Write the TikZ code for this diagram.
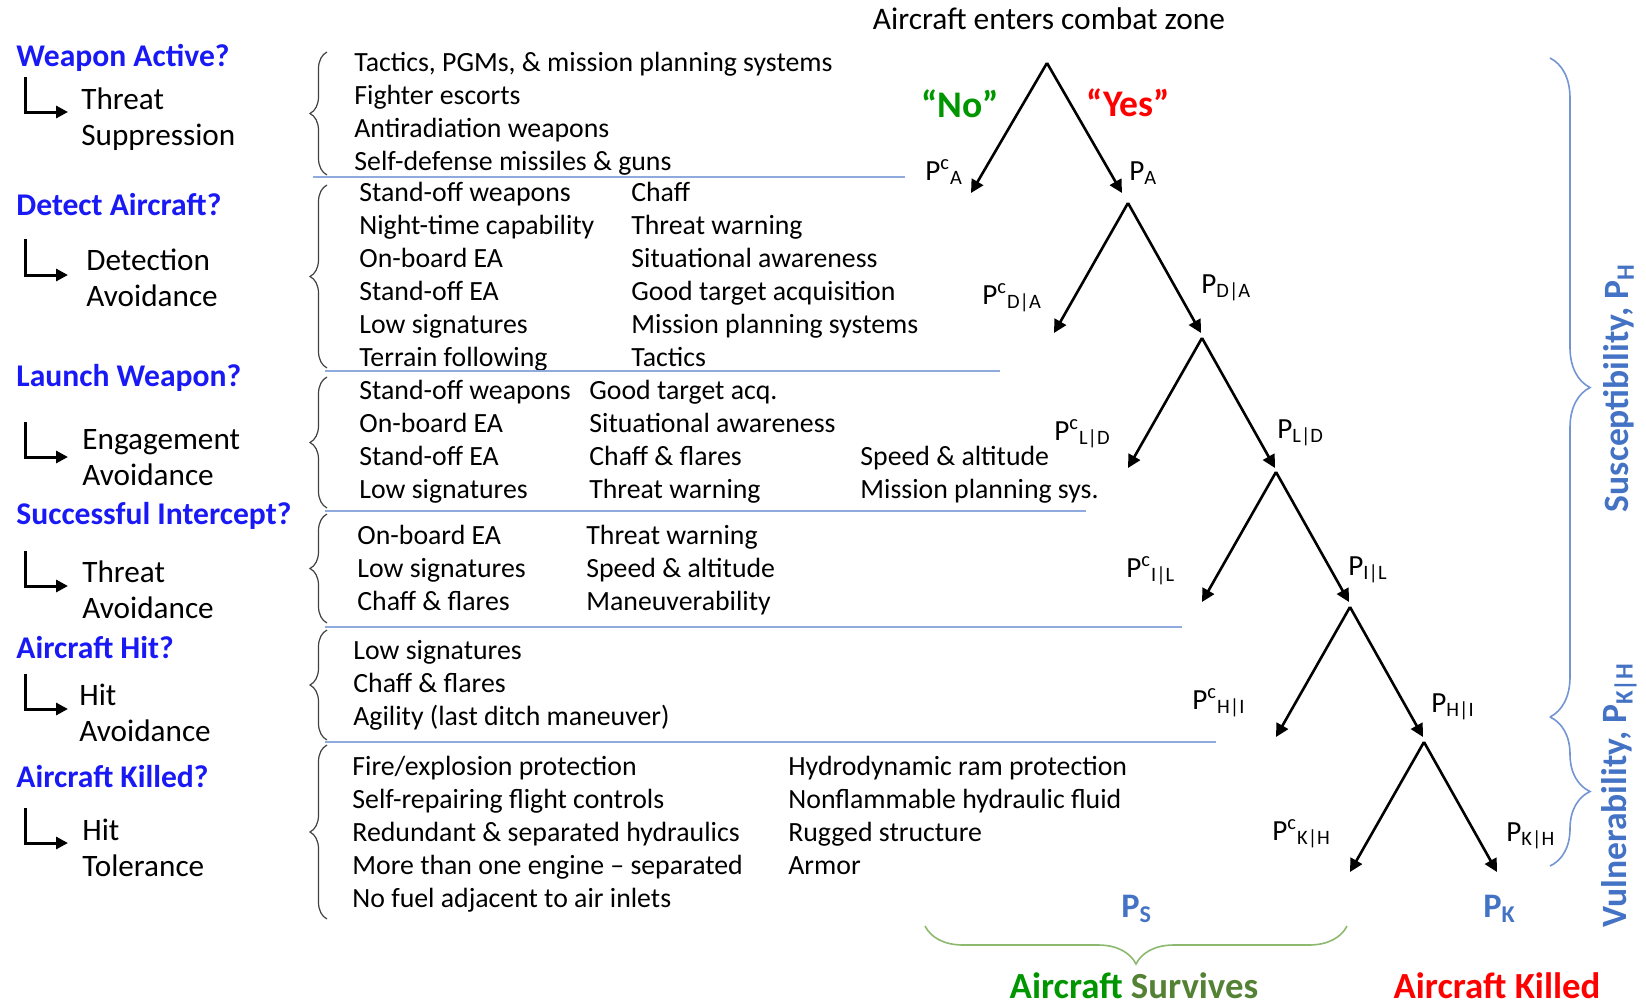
\documentclass[tikz,border=0pt]{standalone}
\usepackage{fontspec}
\setmainfont{Carlito}
\usepackage{xcolor}
\usetikzlibrary{arrows.meta,decorations.pathreplacing}

\definecolor{QuestionBlue}{RGB}{25,25,245}
\definecolor{ProbBlue}{RGB}{68,114,196}
\definecolor{RuleBlue}{RGB}{143,170,220}
\definecolor{NoGreen}{RGB}{0,150,0}
\definecolor{SurvGreen}{RGB}{84,130,53}
\definecolor{BraceGreen}{RGB}{140,185,110}

\newcommand{\Pc}[1]{P\textsuperscript{c}\textsubscript{#1}}
\newcommand{\Pn}[1]{P\textsubscript{#1}}

\begin{document}
\begin{tikzpicture}[x=0.5pt,y=-0.5pt]
 \tikzstyle{Question}=[anchor=west, inner sep=0pt, text=QuestionBlue,
                       font=\fontsize{15.8}{18}\selectfont\bfseries]
 \tikzstyle{Action}=[anchor=west, inner sep=0pt, align=left,
                     font=\fontsize{15.6}{18}\selectfont]
 \tikzstyle{Measures}=[anchor=west, inner sep=0pt,
                       font=\fontsize{13.9}{16.5}\selectfont]
 \tikzstyle{Prob}=[anchor=base west, inner sep=0pt, font=\fontsize{14.6}{16}\selectfont]
 \tikzstyle{ProbBig}=[anchor=base west, inner sep=0pt, text=ProbBlue,
                      font=\fontsize{17.2}{19}\selectfont\bfseries]
 \tikzstyle{Answer}=[inner sep=0pt, font=\fontsize{18.8}{20}\selectfont\bfseries]
 \tikzstyle{Side}=[inner sep=0pt, rotate=90, text=ProbBlue,
                   font=\fontsize{17.8}{19}\selectfont\bfseries]
 \tikzstyle{Outcome}=[inner sep=0pt, font=\fontsize{18.4}{20}\selectfont\bfseries]
 \tikzstyle{Branch}=[line width=1.3pt, -{Triangle[length=6.5pt,width=6.5pt]}]
 \tikzstyle{Elbow}=[line width=1.5pt, -{Triangle[length=6pt,width=6pt]}]
 \tikzstyle{Rule}=[draw=RuleBlue, line width=1pt]
 \tikzstyle{LBrace}=[decorate, decoration={brace, amplitude=8.5pt},
                     draw=black!75, line width=0.6pt]
 \tikzstyle{RBrace}=[decorate, decoration={brace, amplitude=20pt},
                     draw=ProbBlue!75, line width=0.8pt]
 \tikzstyle{GBrace}=[decorate, decoration={brace, amplitude=19pt},
                     draw=BraceGreen, line width=0.8pt]

 \useasboundingbox (0,0) rectangle (1646,1007);

 % questions and the answers to them
 \node[Question] (Q1) at (16,58)  {Weapon Active?};
 \node[Question] (Q2) at (16,205) {Detect Aircraft?};
 \node[Question] (Q3) at (16,378) {Launch Weapon?};
 \node[Question] (Q4) at (16,516) {Successful Intercept?};
 \node[Question] (Q5) at (16,648) {Aircraft Hit?};
 \node[Question] (Q6) at (16,777) {Aircraft Killed?};

 \node[Action] (S1) at (81,119) {Threat\\Suppression};
 \node[Action] (S2) at (86,278) {Detection\\Avoidance};
 \node[Action] (S3) at (82,458) {Engagement\\Avoidance};
 \node[Action] (S4) at (82,590) {Threat\\Avoidance};
 \node[Action] (S5) at (79,713) {Hit\\Avoidance};
 \node[Action] (S6) at (82,848) {Hit\\Tolerance};

 \coordinate (E1) at (25,77);  \coordinate (F1) at (68,112);
 \coordinate (E2) at (25,239); \coordinate (F2) at (68,275);
 \coordinate (E3) at (25,422); \coordinate (F3) at (68,457);
 \coordinate (E4) at (25,551); \coordinate (F4) at (68,586);
 \coordinate (E5) at (25,674); \coordinate (F5) at (68,709);
 \coordinate (E6) at (25,808); \coordinate (F6) at (68,843);
 \draw[Elbow] (E1) |- (F1);
 \draw[Elbow] (E2) |- (F2);
 \draw[Elbow] (E3) |- (F3);
 \draw[Elbow] (E4) |- (F4);
 \draw[Elbow] (E5) |- (F5);
 \draw[Elbow] (E6) |- (F6);

 % measures
 \draw[LBrace] (327,175) -- (327,52);
 \draw[LBrace] (327,368) -- (327,185);
 \draw[LBrace] (327,508) -- (327,377);
 \draw[LBrace] (327,623) -- (327,514);
 \draw[LBrace] (327,740) -- (327,630);
 \draw[LBrace] (327,919) -- (327,745);

 \node[Measures] (M1) at (354,114) {\begin{tabular}{@{}l@{}}
   Tactics, PGMs, \& mission planning systems\\ Fighter escorts\\
   Antiradiation weapons\\ Self-defense missiles \& guns\end{tabular}};
 \node[Measures] (M2) at (359,277) {\begin{tabular}{@{}p{136pt}@{}l@{}}
   Stand-off weapons & Chaff\\ Night-time capability & Threat warning\\
   On-board EA & Situational awareness\\ Stand-off EA & Good target acquisition\\
   Low signatures & Mission planning systems\\ Terrain following & Tactics\end{tabular}};
 \node[Measures] (M3) at (359,442) {\begin{tabular}{@{}p{115pt}@{}p{135.5pt}@{}l@{}}
   Stand-off weapons & Good target acq. &\\ On-board EA & Situational awareness &\\
   Stand-off EA & Chaff \& flares & Speed \& altitude\\
   Low signatures & Threat warning & Mission planning sys.\end{tabular}};
 \node[Measures] (M4) at (357,571) {\begin{tabular}{@{}p{114.5pt}@{}l@{}}
   On-board EA & Threat warning\\ Low signatures & Speed \& altitude\\
   Chaff \& flares & Maneuverability\end{tabular}};
 \node[Measures] (M5) at (353,686) {\begin{tabular}{@{}l@{}}
   Low signatures\\ Chaff \& flares\\ Agility (last ditch maneuver)\end{tabular}};
 \node[Measures] (M6) at (352,835) {\begin{tabular}{@{}p{218pt}@{}l@{}}
   Fire/explosion protection & Hydrodynamic ram protection\\
   Self-repairing flight controls & Nonflammable hydraulic fluid\\
   Redundant \& separated hydraulics & Rugged structure\\
   More than one engine -- separated & Armor\\
   No fuel adjacent to air inlets &\end{tabular}};

 \draw[Rule] (313,177) -- (905,177);
 \draw[Rule] (325,371) -- (1000,371);
 \draw[Rule] (325,511) -- (1086,511);
 \draw[Rule] (325,627) -- (1182,627);
 \draw[Rule] (325,742) -- (1216,742);

 % event tree
 \node[font=\fontsize{15.7}{18}\selectfont, inner sep=0pt] (T) at (1049,19)
   {Aircraft enters combat zone};
 \node[Answer, text=NoGreen] (No) at (960,104) {“No”};
 \node[Answer, text=red] (Yes) at (1128,103) {“Yes”};

 \coordinate (A0) at (1047,63);
 \coordinate (A1) at (1128,203);
 \coordinate (A2) at (1202,338);
 \coordinate (A3) at (1276,472);
 \coordinate (A4) at (1350,607);
 \coordinate (A5) at (1424,742);
 \coordinate (N1) at (971,193);  \coordinate (Y1) at (1122,193);
 \coordinate (N2) at (1054,333); \coordinate (Y2) at (1201,333);
 \coordinate (N3) at (1128,468); \coordinate (Y3) at (1275,468);
 \coordinate (N4) at (1202,602); \coordinate (Y4) at (1349,602);
 \coordinate (N5) at (1276,737); \coordinate (Y5) at (1423,737);
 \coordinate (N6) at (1350,872); \coordinate (Y6) at (1497,872);
 \draw[Branch] (A0) -- (N1); \draw[Branch] (A0) -- (Y1);
 \draw[Branch] (A1) -- (N2); \draw[Branch] (A1) -- (Y2);
 \draw[Branch] (A2) -- (N3); \draw[Branch] (A2) -- (Y3);
 \draw[Branch] (A3) -- (N4); \draw[Branch] (A3) -- (Y4);
 \draw[Branch] (A4) -- (N5); \draw[Branch] (A4) -- (Y5);
 \draw[Branch] (A5) -- (N6); \draw[Branch] (A5) -- (Y6);

 \node[Prob] (PcA)  at (925,180)  {\Pc{A}};
 \node[Prob] (PA)   at (1129,180) {\Pn{A}};
 \node[Prob] (PcDA) at (982,304)  {\Pc{D|A}};
 \node[Prob] (PDA)  at (1201,293) {\Pn{D|A}};
 \node[Prob] (PcLD) at (1054,440) {\Pc{L|D}};
 \node[Prob] (PLD)  at (1277,438) {\Pn{L|D}};
 \node[Prob] (PcIL) at (1126,577) {\Pc{I|L}};
 \node[Prob] (PIL)  at (1348,575) {\Pn{I|L}};
 \node[Prob] (PcHI) at (1192,709) {\Pc{H|I}};
 \node[Prob] (PHI)  at (1431,712) {\Pn{H|I}};
 \node[Prob] (PcKH) at (1272,840) {\Pc{K|H}};
 \node[Prob] (PKH)  at (1506,841) {\Pn{K|H}};
 \node[ProbBig] (PS) at (1121,917) {\Pn{S}};
 \node[ProbBig] (PK) at (1483,917) {\Pn{K}};

 % outcomes
 \draw[GBrace] (1347,926) -- (925,926);
 \node[Outcome] (Surv) at (1134,986)
   {\textcolor{NoGreen}{Aircraft} \textcolor{SurvGreen}{Survives}};
 \node[Outcome, text=red] (Kill) at (1497,986) {Aircraft Killed};

 \draw[RBrace] (1550,58) -- (1550,717);
 \draw[RBrace] (1550,717) -- (1550,866);
 \node[Side] (Sus) at (1619,388) {Susceptibility, \Pn{H}};
 \node[Side] (Vul) at (1619,795) {Vulnerability, \Pn{K|H}};
\end{tikzpicture}
\end{document}
